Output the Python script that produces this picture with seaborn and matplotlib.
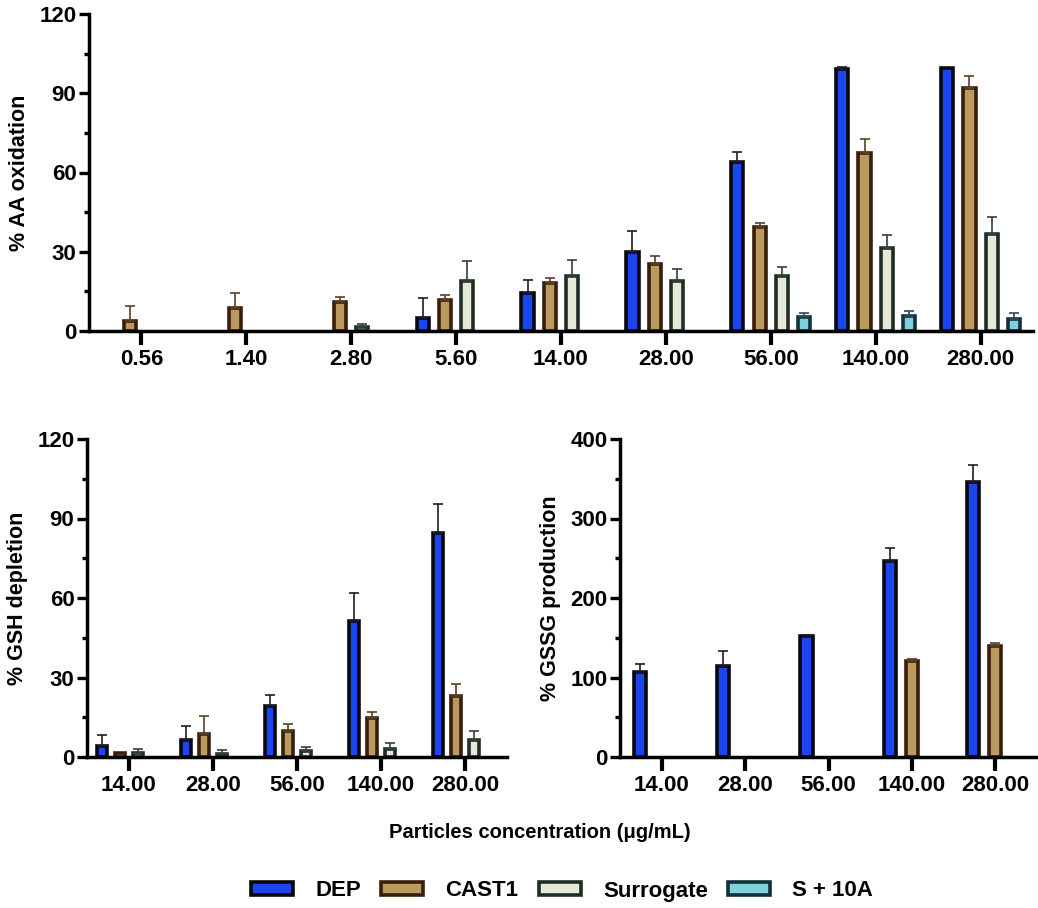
import numpy as np
import pandas as pd
import matplotlib
matplotlib.use('Agg')
import matplotlib.pyplot as plt
import matplotlib.colors as mcolors
from matplotlib.patches import Patch
from matplotlib.ticker import MultipleLocator
import seaborn as sns

nan = np.nan

groups = ['DEP', 'CAST1', 'Surrogate', 'S + 10A']
fills = ['#1b45ee', '#b99b5e', '#e6e9da', '#80d0dc']
edges = ['#07070f', '#3a1d0c', '#1f2d25', '#10303c']
err_cols = ['#1c1c28', '#5a4026', '#33413a', '#2c4a55']

# AA oxidation
aa_conc = ['0.56', '1.40', '2.80', '5.60', '14.00', '28.00', '56.00', '140.00', '280.00']
aa_dep = [nan, nan, nan, 4.8, 14.3, 29.8, 64.1, 99.2, 99.7]
aa_dep_sd = [nan, nan, nan, 7.6, 5.0, 8.2, 3.8, 0.6, 0.0]
aa_cast1 = [3.8, 8.6, 11.1, 11.7, 18.0, 25.4, 39.5, 67.3, 92.1]
aa_cast1_sd = [5.7, 5.7, 1.9, 1.8, 1.9, 3.0, 1.5, 5.3, 4.4]
aa_surr = [nan, nan, 1.6, 19.1, 20.8, 19.1, 20.8, 31.3, 36.7]
aa_surr_sd = [nan, nan, 0.9, 7.5, 6.1, 4.4, 3.3, 5.0, 6.6]
aa_s10a = [nan, nan, nan, nan, nan, nan, 5.4, 5.7, 4.5]
aa_s10a_sd = [nan, nan, nan, nan, nan, nan, 1.3, 2.0, 2.4]

# GSH depletion
gsh_conc = ['14.00', '28.00', '56.00', '140.00', '280.00']
gsh_dep = [4.0, 6.3, 19.3, 51.3, 84.5]
gsh_dep_sd = [4.4, 5.3, 4.1, 10.7, 11.0]
gsh_cast1 = [1.4, 8.8, 9.8, 14.9, 23.2]
gsh_cast1_sd = [0.0, 6.6, 2.6, 1.9, 4.3]
gsh_surr = [1.4, 1.0, 2.1, 2.9, 6.3]
gsh_surr_sd = [1.8, 1.8, 1.7, 2.5, 3.5]

# GSSG production
gssg_conc = ['14.00', '28.00', '56.00', '140.00', '280.00']
gssg_dep = [106.3, 114.3, 152.1, 246.6, 346.2]
gssg_dep_sd = [10.1, 18.9, 1.3, 16.8, 21.4]
gssg_cast1 = [nan, nan, nan, 121.0, 139.5]
gssg_cast1_sd = [nan, nan, nan, 1.7, 4.2]

sns.set_style('ticks')
plt.rcParams['font.family'] = ['Liberation Sans', 'DejaVu Sans']
plt.rcParams['font.weight'] = 'bold'
plt.rcParams['axes.labelweight'] = 'bold'
plt.rcParams['text.color'] = 'black'
plt.rcParams['axes.labelcolor'] = 'black'
plt.rcParams['xtick.color'] = 'black'
plt.rcParams['ytick.color'] = 'black'

fill_map = dict(zip(groups, fills))
hex_to_idx = {mcolors.to_hex(c): i for i, c in enumerate(fills)}


def draw_panel(ax, conc, series, sds, levels, width, gap, ymax, major, ylabel):
    rows = []
    sd_map = {}
    for g, vals, errs in zip(levels, series, sds):
        for k, (c, v, e) in enumerate(zip(conc, vals, errs)):
            if not np.isnan(v):
                rows.append({'conc': c, 'val': v, 'group': g})
                sd_map[(g, k)] = e
    df = pd.DataFrame(rows)
    sns.barplot(data=df, x='conc', y='val', hue='group', order=conc, hue_order=levels,
                palette=fill_map, saturation=1, width=width, gap=gap, errorbar=None,
                legend=False, linewidth=2.6, ax=ax)
    for p in ax.patches:
        idx = hex_to_idx.get(mcolors.to_hex(p.get_facecolor()))
        if idx is None:
            continue
        p.set_edgecolor(edges[idx])
        p.set_linewidth(2.6)
        xc = p.get_x() + p.get_width() / 2
        k = int(round(xc))
        e = sd_map.get((groups[idx], k), 0)
        if e and not np.isnan(e) and e > 0:
            h = p.get_height()
            ax.errorbar(xc, h, yerr=[[0], [e]], fmt='none', ecolor=err_cols[idx],
                        elinewidth=1.2, capsize=3.5, capthick=1.2, zorder=1.5)
    ax.set_ylim(0, ymax)
    ax.set_xlim(-0.5, len(conc) - 0.5)
    ax.yaxis.set_major_locator(MultipleLocator(major))
    ax.yaxis.set_minor_locator(MultipleLocator(major / 2))
    ax.set_xlabel('')
    ax.set_ylabel(ylabel, fontsize=15.5, labelpad=7, color='black')
    sns.despine(ax=ax)
    for s in ['left', 'bottom']:
        ax.spines[s].set_linewidth(2.5)
        ax.spines[s].set_color('black')
    ax.tick_params(axis='y', which='major', length=7, width=2.4, labelsize=16, pad=2,
                   colors='black')
    ax.tick_params(axis='y', which='minor', length=3.5, width=2.4, colors='black')
    ax.tick_params(axis='x', which='major', length=10, width=3, labelsize=16, pad=3,
                   colors='black')
    for lab in ax.get_xticklabels() + ax.get_yticklabels():
        lab.set_fontweight('bold')


fig = plt.figure(figsize=(10.38, 9.08), dpi=100)
ax1 = fig.add_axes([89 / 1038, 1 - 331 / 908, 944 / 1038, 317 / 908])
ax2 = fig.add_axes([87 / 1038, 1 - 757 / 908, 420 / 1038, 318 / 908])
ax3 = fig.add_axes([620 / 1038, 1 - 757 / 908, 417 / 1038, 318 / 908])

draw_panel(ax1, aa_conc,
           [aa_dep, aa_cast1, aa_surr, aa_s10a],
           [aa_dep_sd, aa_cast1_sd, aa_surr_sd, aa_s10a_sd],
           groups, 0.85, 0.45, 120, 30, '% AA oxidation')
draw_panel(ax2, gsh_conc,
           [gsh_dep, gsh_cast1, gsh_surr],
           [gsh_dep_sd, gsh_cast1_sd, gsh_surr_sd],
           groups, 0.86, 0.45, 120, 30, '% GSH depletion')
draw_panel(ax3, gssg_conc,
           [gssg_dep, gssg_cast1],
           [gssg_dep_sd, gssg_cast1_sd],
           groups[:3], 0.79, 0.45, 400, 100, '% GSSG production')

fig.text(540 / 1038, 1 - 832 / 908, 'Particles concentration (\u03bcg/mL)',
         ha='center', va='center', fontsize=14.5, fontweight='bold', color='black')

handles = [Patch(facecolor=f, edgecolor=e, linewidth=2.6, label=g)
           for g, f, e in zip(groups, fills, edges)]
fig.legend(handles=handles, loc='center', bbox_to_anchor=(562 / 1038, 1 - 891 / 908),
           ncol=4, frameon=False, fontsize=16, handlelength=1.9, handleheight=0.55,
           handletextpad=1.0, columnspacing=0.9)

fig.savefig('out.png', dpi=100)
